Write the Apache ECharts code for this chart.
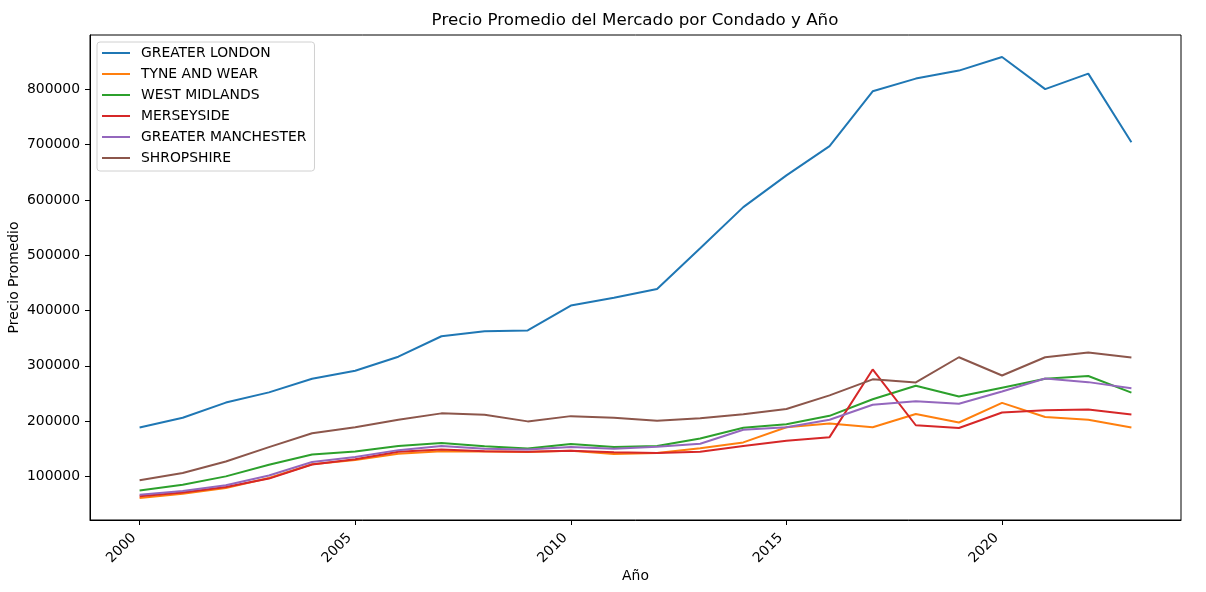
<!DOCTYPE html>
<html>
<head>
<meta charset="utf-8">
<script src="https://cdn.jsdelivr.net/npm/echarts@6/dist/echarts.min.js"></script>
<style>html,body{margin:0;padding:0;background:#fff}#c{width:1206px;height:592px}</style>
</head>
<body>
<div id="c"></div>
<script>
const years = [2000,2001,2002,2003,2004,2005,2006,2007,2008,2009,2010,2011,2012,2013,2014,2015,2016,2017,2018,2019,2020,2021,2022,2023];
const seriesNames = ['GREATER LONDON','TYNE AND WEAR','WEST MIDLANDS','MERSEYSIDE','GREATER MANCHESTER','SHROPSHIRE'];
const greaterLondon = [188500,206000,233500,252000,276500,291000,316500,353500,362500,364000,409000,423000,439000,512500,587000,644500,697500,796500,819500,834000,858500,800500,828500,704500];
const tyneAndWear = [61000,68500,79000,97000,122000,129500,141000,145500,145000,144000,146500,140500,142500,151000,161500,189000,195500,189000,213000,197500,233000,207500,202500,188500];
const westMidlands = [74500,85000,100000,121000,139500,145000,155000,160500,154500,150500,158500,153000,155000,168500,188000,194500,209500,239500,264000,244500,260500,276500,281500,251500];
const merseyside = [64000,71000,81000,96000,121500,131000,144500,148500,145500,144500,146500,143500,142500,144500,155000,164500,171000,293500,192500,187500,215500,219500,221000,212000];
const greaterManchester = [67000,73500,84000,101500,126000,135000,147500,155000,150000,148500,153000,150000,153500,159000,184500,189000,202500,229500,236000,231500,253500,277000,270500,259500];
const shropshire = [93000,106000,127000,153000,178000,189000,202500,214000,211500,199500,209000,206000,200500,205000,212500,222000,246500,275500,270000,315500,282500,315500,324000,315000];
const xTicks = [2000,2005,2010,2015,2020];
const yTicks = [100000,200000,300000,400000,500000,600000,700000,800000];
const colors = ['#1f77b4','#ff7f0e','#2ca02c','#d62728','#9467bd','#8c564b'];
const allValues = [greaterLondon,tyneAndWear,westMidlands,merseyside,greaterManchester,shropshire];

const chart = echarts.init(document.getElementById('c'), null, {renderer:'canvas'});
const font = 'DejaVu Sans';
const txt = {color:'#000', fontFamily:font, fontSize:13.9};
const yMinRaw = Math.min(...allValues.flat()), yMaxRaw = Math.max(...allValues.flat());
const pad = (yMaxRaw - yMinRaw) * 0.05;

chart.setOption({
  animation:false,
  color: colors,
  title:{
    text:'Precio Promedio del Mercado por Condado y Año',
    left:630, top:7, textAlign:'center',
    textStyle:{fontFamily:font, fontSize:16.7, fontWeight:'normal', color:'#000'}
  },
  legend:{
    orient:'vertical', left:97, top:42,
    data: seriesNames,
    itemWidth:28, itemHeight:14, itemGap:7,
    padding:[4,8,6,5],
    borderColor:'#d0d0d0', borderWidth:1, borderRadius:3,
    backgroundColor:'rgba(255,255,255,0.8)',
    icon:'path://M0,6L28,6L28,8L0,8Z',
    textStyle:{color:'#000', fontFamily:font, fontSize:13.9, padding:[0,0,0,6]}
  },
  grid:{left:90, right:25, top:35, bottom:72, show:true, borderColor:'#000', borderWidth:1, containLabel:false, outerBoundsMode:'none'},
  xAxis:{
    type:'value', min:1998.85, max:2024.15,
    name:'Año', nameLocation:'middle', nameGap:49, nameMoveOverlap:false,
    nameTextStyle:txt,
    splitLine:{show:false},
    axisLine:{show:true, lineStyle:{color:'#000'}},
    axisTick:{show:true, length:5, lineStyle:{color:'#000'}, customValues:xTicks},
    axisLabel:{...txt, rotate:45, margin:10, padding:[0,8,0,0], customValues:xTicks, formatter:v=>String(v)}
  },
  yAxis:{
    type:'value', min:yMinRaw-pad, max:yMaxRaw+pad,
    name:'Precio Promedio', nameLocation:'middle', nameGap:69, nameRotate:90, nameMoveOverlap:false,
    nameTextStyle:txt,
    splitLine:{show:false},
    axisLine:{show:true, lineStyle:{color:'#000'}},
    axisTick:{show:true, length:5, lineStyle:{color:'#000'}, customValues:yTicks},
    axisLabel:{...txt, margin:10, customValues:yTicks, formatter:v=>String(v)}
  },
  series: seriesNames.map((n,i)=>({
    name:n, type:'line', showSymbol:false, symbol:'none',
    lineStyle:{width:2, color:colors[i]},
    itemStyle:{color:colors[i]},
    data: years.map((y,j)=>[y, allValues[i][j]])
  }))
});
</script>
</body>
</html>
